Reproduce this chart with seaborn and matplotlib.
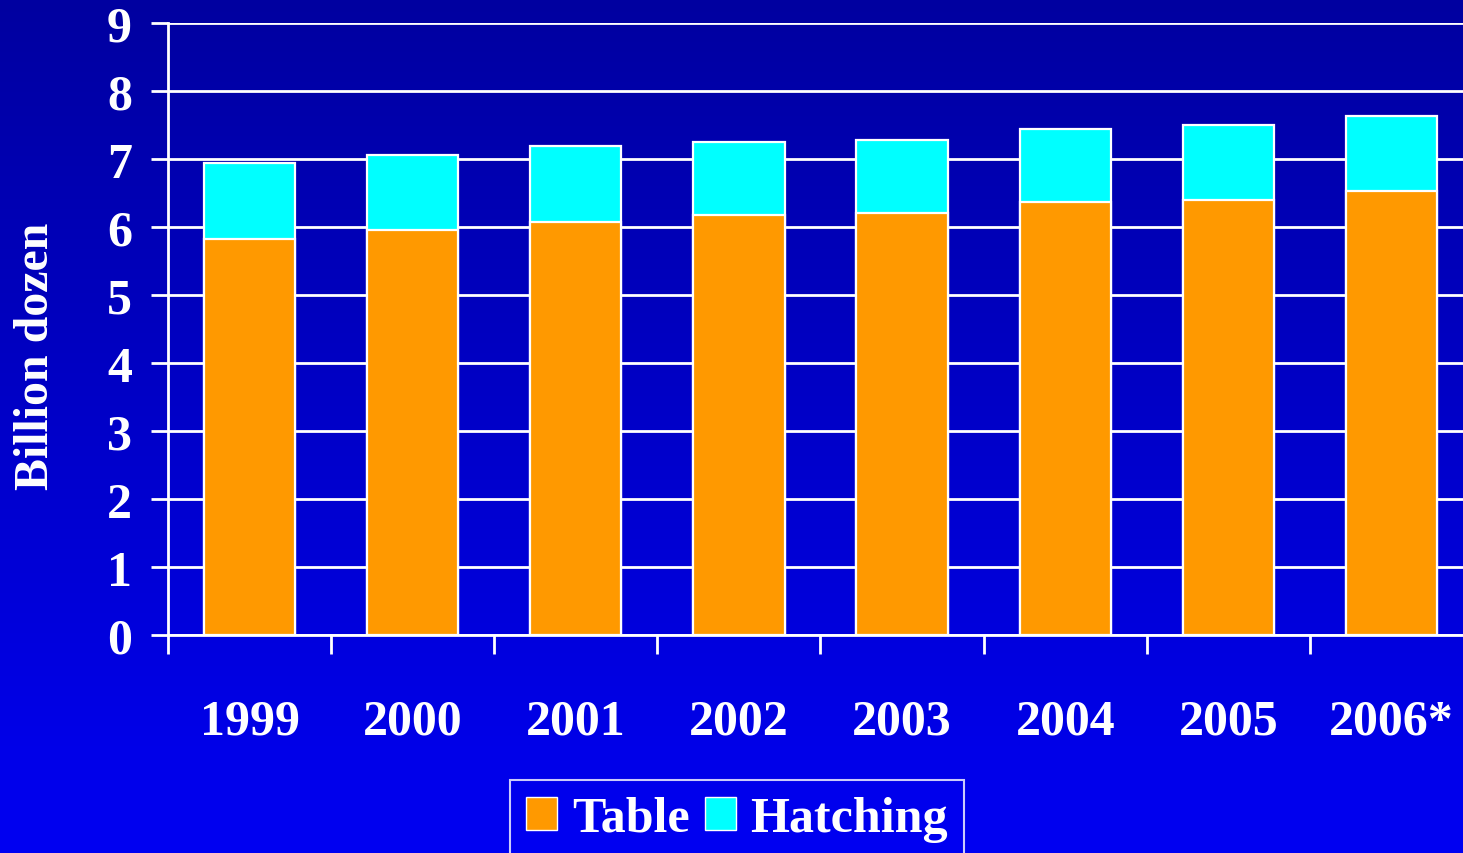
import numpy as np
import matplotlib
matplotlib.use("Agg")
import matplotlib.pyplot as plt
import matplotlib.patches as mpatches
from matplotlib.colors import LinearSegmentedColormap
import seaborn as sns

years = ["1999", "2000", "2001", "2002", "2003", "2004", "2005", "2006*"]
table = [5.82, 5.96, 6.07, 6.18, 6.21, 6.37, 6.40, 6.53]
hatching = [1.12, 1.10, 1.12, 1.07, 1.07, 1.07, 1.10, 1.10]
totals = [t + h for t, h in zip(table, hatching)]

sns.set_style("white")
plt.rcParams["font.family"] = ["Liberation Serif", "DejaVu Serif"]
plt.rcParams["font.weight"] = "bold"

fig = plt.figure(figsize=(14.63, 8.54), dpi=100)

# background gradient, dark blue at top to bright blue at bottom
bg = fig.add_axes([0, 0, 1, 1], zorder=-10)
grad = np.linspace(0, 1, 256).reshape(-1, 1)
cmap = LinearSegmentedColormap.from_list("bg", ["#0000A0", "#0000F2"])
bg.imshow(grad, aspect="auto", cmap=cmap, extent=[0, 1, 0, 1], origin="upper")
bg.axis("off")

ax = fig.add_axes([168 / 1463, 218 / 854, 1305 / 1463, 612 / 854])
ax.patch.set_alpha(0)

sns.barplot(x=years, y=totals, color="#00FFFF", saturation=1, width=0.56,
            edgecolor="white", linewidth=1.6, ax=ax, zorder=3)
sns.barplot(x=years, y=table, color="#FF9900", saturation=1, width=0.56,
            edgecolor="white", linewidth=1.6, ax=ax, zorder=4)

ax.set_xlim(-0.5, 7.5)
ax.set_ylim(0, 9)
ax.set_yticks(range(0, 10))
ax.yaxis.grid(True, color="white", linewidth=2)
ax.set_axisbelow(True)

for side in ["top", "right"]:
    ax.spines[side].set_visible(False)
for side in ["left", "bottom"]:
    ax.spines[side].set_color("white")
    ax.spines[side].set_linewidth(2)

ax.set_xticks(np.arange(-0.5, 7.5, 1), minor=True)
ax.tick_params(axis="x", which="minor", bottom=True, length=14, width=2, color="white",
               direction="out")
ax.tick_params(axis="x", which="major", bottom=True, length=0, pad=46, labelsize=36,
               labelcolor="white")
ax.tick_params(axis="y", left=True, length=12, width=2, color="white", direction="out",
               pad=14, labelsize=36, labelcolor="white")
for lab in ax.get_xticklabels() + ax.get_yticklabels():
    lab.set_fontweight("bold")

ax.set_xlabel("")
ax.set_ylabel("Billion dozen", fontsize=34.5, fontweight="bold", color="white")
ax.yaxis.set_label_coords(-0.084, 0.4575)

handles = [mpatches.Patch(facecolor="#FF9900", edgecolor="white", linewidth=1, label="Table"),
           mpatches.Patch(facecolor="#00FFFF", edgecolor="white", linewidth=1, label="Hatching")]
leg = fig.legend(handles=handles, loc="upper center", bbox_to_anchor=(737 / 1463, 1 - 781 / 854),
                 ncol=2, frameon=True, fancybox=False, handlelength=0.62, borderaxespad=0,
                 handleheight=0.62, handletextpad=0.3, columnspacing=0.3, borderpad=0.32,
                 prop={"weight": "bold", "size": 36})
leg.get_frame().set_facecolor("none")
leg.get_frame().set_edgecolor("white")
leg.get_frame().set_linewidth(1.5)
for t in leg.get_texts():
    t.set_color("white")

fig.savefig("out.png", dpi=100)
